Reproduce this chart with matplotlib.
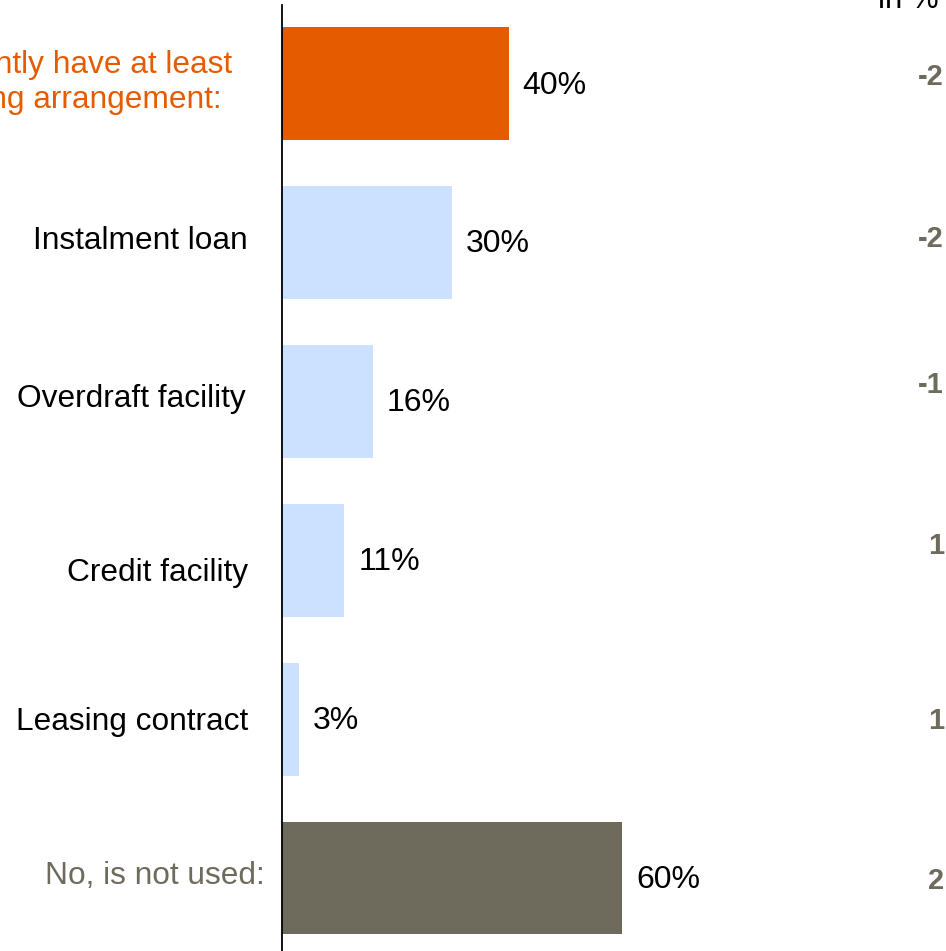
import matplotlib
matplotlib.use("Agg")
import matplotlib.pyplot as plt
from matplotlib import transforms

plt.rcParams['font.family'] = ['Liberation Sans', 'DejaVu Sans']

# Survey shares (in %) and change versus previous wave
categories = [
    "Yes, I currently have at least\none financing arrangement:",
    "Instalment loan",
    "Overdraft facility",
    "Credit facility",
    "Leasing contract",
    "No, is not used:",
]
shares = [40, 30, 16, 11, 3, 60]
changes = ["-2", "-2", "-1", "1", "1", "2"]

ORANGE = "#E55B00"
LIGHT = "#CCE0FF"
GREY = "#6E6B5C"
bar_colors = [ORANGE, LIGHT, LIGHT, LIGHT, LIGHT, GREY]
label_colors = [ORANGE, "black", "black", "black", "black", GREY]

W, H = 946, 951
fig = plt.figure(figsize=(W / 100, H / 100), dpi=100)
ax = fig.add_axes([282 / W, 0, (W - 282) / W, 946 / H])

y = list(range(len(categories)))
ax.barh(y, shares, height=0.71, color=bar_colors, zorder=2)

px_per_unit = 340 / 60
ax.set_xlim(0, (W - 282) / px_per_unit)
ax.set_ylim(5.459, -0.494)

for s in ["top", "right", "bottom"]:
    ax.spines[s].set_visible(False)
ax.spines["left"].set_linewidth(1.3)
ax.spines["left"].set_color("black")
ax.set_xticks([])
ax.set_yticks([])

# value labels at the end of each bar
for i, v in enumerate(shares):
    ax.annotate(f"{v}%", xy=(v, i), xytext=(14, -2), textcoords="offset pixels",
                ha="left", va="center", fontsize=23, color="black")

# category labels left of the axis
label_dx = [-50, -34, -36, -34, -34, -17]
label_dy = [1, 1, 2, -13, -3, 2]
for i, (c, col) in enumerate(zip(categories, label_colors)):
    ax.annotate(c, xy=(0, i), xytext=(label_dx[i], label_dy[i]), textcoords="offset pixels",
                ha="right", va="center", fontsize=22.8, color=col,
                multialignment="left", linespacing=1.25)

# change column on the right edge
trans = transforms.blended_transform_factory(fig.transFigure, ax.transData)
change_dy = [7, 3, 16, 14, -2, -3]
for i, c in enumerate(changes):
    ax.annotate(c, xy=(944 / W, i), xycoords=trans, xytext=(0, change_dy[i]),
                textcoords="offset pixels", ha="right", va="center",
                fontsize=21, fontweight="bold", color=GREY)

fig.text(939 / W, 1 - 8 / H, "in %", ha="right", va="baseline", fontsize=22.5, color="black")

fig.savefig("out.png", dpi=100)
